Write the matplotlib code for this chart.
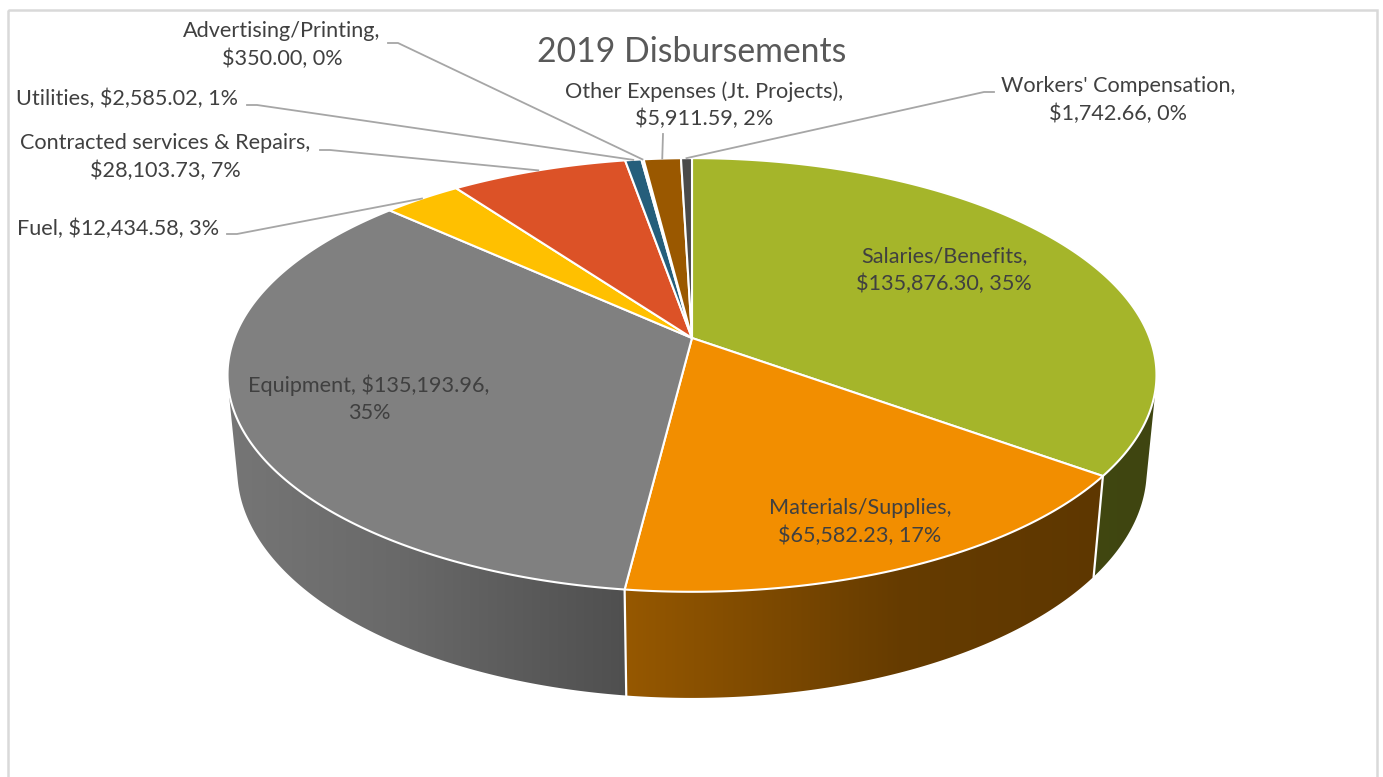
import numpy as np
import matplotlib.pyplot as plt
from matplotlib.patches import Polygon, Rectangle

plt.rcParams['font.family'] = ['Lato', 'DejaVu Sans']

# data, clockwise from 12 o'clock
categories = ['Salaries/Benefits', 'Materials/Supplies', 'Equipment', 'Fuel',
              'Contracted services & Repairs', 'Utilities', 'Advertising/Printing',
              'Other Expenses (Jt. Projects)', "Workers' Compensation"]
amounts = [135876.30, 65582.23, 135193.96, 12434.58, 28103.73,
           2585.02, 350.00, 5911.59, 1742.66]
colors = ['#A5B52A', '#F28E00', '#808080', '#FFC000', '#DC5227',
          '#255E7B', '#A5A5A5', '#9A5800', '#4A4A4A']
# how many comma parts go on the first label line (3 = single line)
first_line_parts = [1, 1, 2, 3, 1, 3, 1, 1, 1]

# label layout (pixel positions in the chart area)
label_pos = [(944, 270), (860, 522), (369, 399), (118, 229), (165, 157),
             (127, 99), (282, 45), (704, 105), (1118, 100)]
# leader line start (label side) and stub end, None for inside labels
leader_start = [None, None, None, ((227, 234), (237, 234)), ((320, 150), (330, 150)),
                ((247, 105), (257, 105)), ((388, 43), (398, 43)),
                ((663, 134), (663, 134)), ((994, 92), (984, 92))]

W, H = 1383, 777
cx, cy = 692, 338
F, D, S, C = 2384.0, 5.209, 0.46, 0.888   # focal, camera distance, sin/cos of tilt
T = 0.235                                 # pie thickness


def project(theta, r=1.0, z=0.0):
    X = r * np.sin(theta)
    Y = r * np.cos(theta)
    depth = D + Y * C - z * S
    return cx + F * X / depth, cy - F * (Y * S + z * C) / depth


def shade(x):
    return np.interp(x, [228, 400, 625, 900, 1160], [0.92, 0.82, 0.62, 0.42, 0.38])


def darker(hexcol, k):
    rgb = np.array([int(hexcol[i:i + 2], 16) for i in (1, 3, 5)]) / 255.0
    return np.outer(np.atleast_1d(k), rgb)


total = sum(amounts)
fracs = np.array(amounts) / total
edges = np.concatenate([[0], np.cumsum(fracs)]) * 2 * np.pi

fig = plt.figure(figsize=(W / 100, H / 100), dpi=100)
ax = fig.add_axes([0, 0, 1, 1])

ax.add_patch(Rectangle((8, 10), 1369, 790, fill=False, edgecolor='#D9D9D9', lw=1.8))

# side wall: only the part facing the viewer, shaded with a gradient
vis0 = np.arccos(-1 / (D * C))
vis1 = 2 * np.pi - vis0
for i in range(len(amounts)):
    a0, a1 = max(edges[i], vis0), min(edges[i + 1], vis1)
    if a1 <= a0:
        continue
    ts = np.linspace(a0, a1, 200)
    top = [project(t) for t in ts]
    bot = [project(t, z=-T) for t in ts[::-1]]
    pts = np.array(top + bot)
    wall = Polygon(pts, closed=True, facecolor='none', edgecolor='none', zorder=1)
    ax.add_patch(wall)
    x0, x1 = pts[:, 0].min(), pts[:, 0].max()
    y0, y1 = pts[:, 1].min(), pts[:, 1].max()
    xs = np.linspace(x0, x1, 300)
    img = darker(colors[i], shade(xs))[None, :, :]
    im = ax.imshow(img, extent=(x0, x1, y1, y0), aspect='auto',
                   interpolation='bilinear', zorder=1)
    im.set_clip_path(wall)

for a in edges:
    if vis0 < a < vis1:
        p0, p1 = project(a), project(a, z=-T)
        ax.plot([p0[0], p1[0]], [p0[1], p1[1]], color='white', lw=1.6, zorder=2)

# top face
for i in range(len(amounts)):
    n = max(2, int(np.degrees(edges[i + 1] - edges[i]) * 2))
    ts = np.linspace(edges[i], edges[i + 1], n + 1)
    pts = [(cx, cy)] + [project(t) for t in ts]
    ax.add_patch(Polygon(pts, closed=True, facecolor=colors[i], edgecolor='white',
                         lw=1.5, joinstyle='round', zorder=3))

# labels
for i, name in enumerate(categories):
    parts = [name, '${:,.2f}'.format(amounts[i]), '{:.0f}%'.format(fracs[i] * 100)]
    k = first_line_parts[i]
    txt = ', '.join(parts[:k])
    if k < 3:
        txt += ',\n' + ', '.join(parts[k:])
    x, y = label_pos[i]
    ax.text(x, y, txt, ha='center', va='center', multialignment='center',
            fontsize=15.6, color='#404040', linespacing=1.42, zorder=5)
    if leader_start[i] is not None:
        mid = (edges[i] + edges[i + 1]) / 2
        ex, ey = project(mid)
        (sx, sy), (tx, ty) = leader_start[i]
        ax.plot([sx, tx, ex], [sy, ty, ey], color='#A6A6A6', lw=1.3, zorder=4)

ax.text(692, 52, '2019 Disbursements', ha='center', va='center',
        fontsize=24.3, color='#595959', zorder=5)

ax.set_xlim(0, W)
ax.set_ylim(H, 0)
ax.set_axis_off()

fig.savefig('out.png', dpi=100)
